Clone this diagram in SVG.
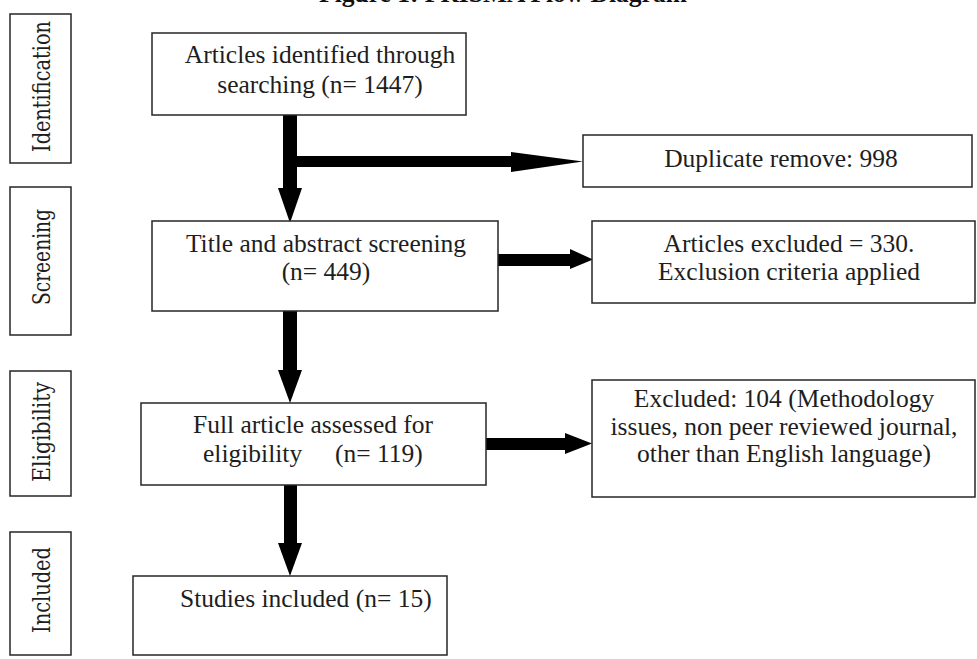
<svg xmlns="http://www.w3.org/2000/svg" width="977" height="659" viewBox="0 0 977 659">
<style>
.box{fill:#fff;stroke:#262626;stroke-width:1.5}
.t{font-family:"Liberation Serif","Times New Roman",serif;font-size:25.5px;fill:#1e1e1e}
.m{text-anchor:middle}
.side{font-family:"DejaVu Serif","Liberation Serif",serif;font-size:24px;fill:#1e1e1e;text-anchor:middle;font-stretch:condensed}
.title{font-family:"Liberation Serif","Times New Roman",serif;font-size:25.5px;font-weight:bold;fill:#111;text-anchor:middle}
.arr{fill:#000}
</style>
<rect width="977" height="659" fill="#fff"/>
<text class="title" x="503" y="1.5">Figure 1: PRISMA Flow Diagram</text>

<g id="stage-identification">
<rect class="box" x="10" y="14" width="61" height="149"/>
<text class="side" transform="translate(50,86.5) rotate(-90)" textLength="131" lengthAdjust="spacingAndGlyphs">Identification</text>
</g>
<g id="stage-screening">
<rect class="box" x="10" y="187" width="61" height="148"/>
<text class="side" transform="translate(50,257) rotate(-90)" textLength="96" lengthAdjust="spacingAndGlyphs">Screening</text>
</g>
<g id="stage-eligibility">
<rect class="box" x="10" y="371" width="61" height="125"/>
<text class="side" transform="translate(50,432) rotate(-90)" textLength="100" lengthAdjust="spacingAndGlyphs">Eligibility</text>
</g>
<g id="stage-included">
<rect class="box" x="10" y="532" width="61" height="123"/>
<text class="side" transform="translate(50,590) rotate(-90)" textLength="86" lengthAdjust="spacingAndGlyphs">Included</text>
</g>

<g id="connectors">
<rect class="arr" x="283" y="115" width="14" height="73"/>
<polygon class="arr" points="278,188 302,188 290,223"/>
<rect class="arr" x="297" y="156" width="214" height="11"/>
<polygon class="arr" points="511,152 511,172 583,161.5"/>
<rect class="arr" x="283" y="311" width="14" height="59"/>
<polygon class="arr" points="278,370 302,370 290,403"/>
<rect class="arr" x="498" y="254" width="72" height="12"/>
<polygon class="arr" points="570,249 570,269 593,259.5"/>
<rect class="arr" x="284" y="485" width="13" height="58"/>
<polygon class="arr" points="278,543 302,543 290,576"/>
<rect class="arr" x="486" y="438" width="79" height="12"/>
<polygon class="arr" points="565,433 565,454 592,443.5"/>
</g>

<g id="identified">
<rect class="box" x="152" y="33" width="314" height="82"/>
<text class="t m" x="320" y="63">Articles identified through</text>
<text class="t m" x="320" y="93">searching (n= 1447)</text>
</g>
<g id="duplicates">
<rect class="box" x="583" y="135" width="389" height="52"/>
<text class="t m" x="781" y="167">Duplicate remove: 998</text>
</g>
<g id="screening">
<rect class="box" x="152" y="221" width="346" height="90"/>
<text class="t m" x="326" y="252">Title and abstract screening</text>
<text class="t m" x="326" y="280">(n= 449)</text>
</g>
<g id="excluded-screening">
<rect class="box" x="592" y="221" width="383" height="82"/>
<text class="t m" x="789" y="252">Articles excluded = 330.</text>
<text class="t m" x="789" y="280">Exclusion criteria applied</text>
</g>
<g id="eligibility">
<rect class="box" x="141" y="403" width="345" height="82"/>
<text class="t" x="193" y="433">Full article assessed for</text>
<text class="t" y="462"><tspan x="203">eligibility</tspan><tspan x="335">(n= 119)</tspan></text>
</g>
<g id="excluded-eligibility">
<rect class="box" x="592" y="380" width="383" height="117"/>
<text class="t m" x="784" y="407">Excluded: 104 (Methodology</text>
<text class="t m" x="784" y="435">issues, non peer reviewed journal,</text>
<text class="t m" x="784" y="462">other than English language)</text>
</g>
<g id="included">
<rect class="box" x="133" y="576" width="314" height="79"/>
<text class="t" x="180" y="607">Studies included (n= 15)</text>
</g>
</svg>
